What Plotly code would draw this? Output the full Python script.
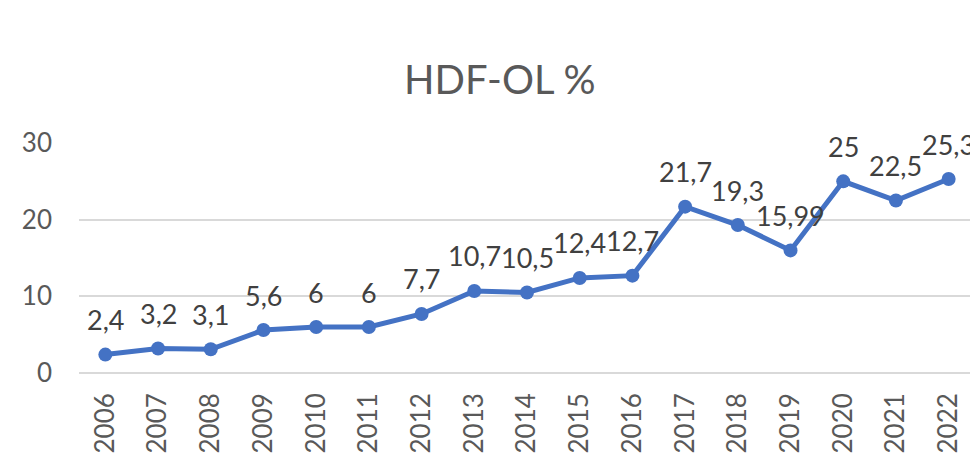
import plotly.graph_objects as go

years = ["2006", "2007", "2008", "2009", "2010", "2011", "2012", "2013", "2014",
         "2015", "2016", "2017", "2018", "2019", "2020", "2021", "2022"]
values = [2.4, 3.2, 3.1, 5.6, 6, 6, 7.7, 10.7, 10.5, 12.4, 12.7, 21.7, 19.3, 15.99, 25, 22.5, 25.3]
labels = [("%g" % v).replace(".", ",") for v in values]
y_ticks = [0, 10, 20, 30]

FONT = "Lato, Liberation Sans, sans-serif"

fig = go.Figure(go.Scatter(
    x=years, y=values, mode="lines+markers",
    line=dict(color="#4472C4", width=5),
    marker=dict(color="#4472C4", size=14),
    cliponaxis=False,
))

for i, (y, t) in enumerate(zip(values, labels)):
    fig.add_annotation(x=i, y=y, xref="x", yref="y", text=t, showarrow=False,
                       yanchor="middle", yshift=35,
                       font=dict(size=27, color="#404040", family=FONT))

fig.update_layout(
    width=970, height=449,
    margin=dict(l=71, r=3, t=135, b=84),
    plot_bgcolor="white", paper_bgcolor="white",
    showlegend=False,
    title=dict(text="HDF-OL %", x=0.507, xanchor="center", y=0.84, yanchor="middle",
               font=dict(size=40, color="#595959", family=FONT)),
    font=dict(family=FONT, color="#595959"),
)
fig.update_xaxes(type="category", range=[-0.5, 16.5], tickangle=-90,
                 tickfont=dict(size=26, color="#595959"), showgrid=False,
                 showline=False, ticks="", ticklabelstandoff=14)
fig.update_yaxes(range=[0, 30], tickvals=y_ticks, showgrid=True, gridcolor="#D9D9D9",
                 gridwidth=1.5, zeroline=True, zerolinecolor="#D9D9D9", zerolinewidth=1.5,
                 tickfont=dict(size=26, color="#595959"), ticks="", ticklabelstandoff=26)

fig.write_html("out.html")
